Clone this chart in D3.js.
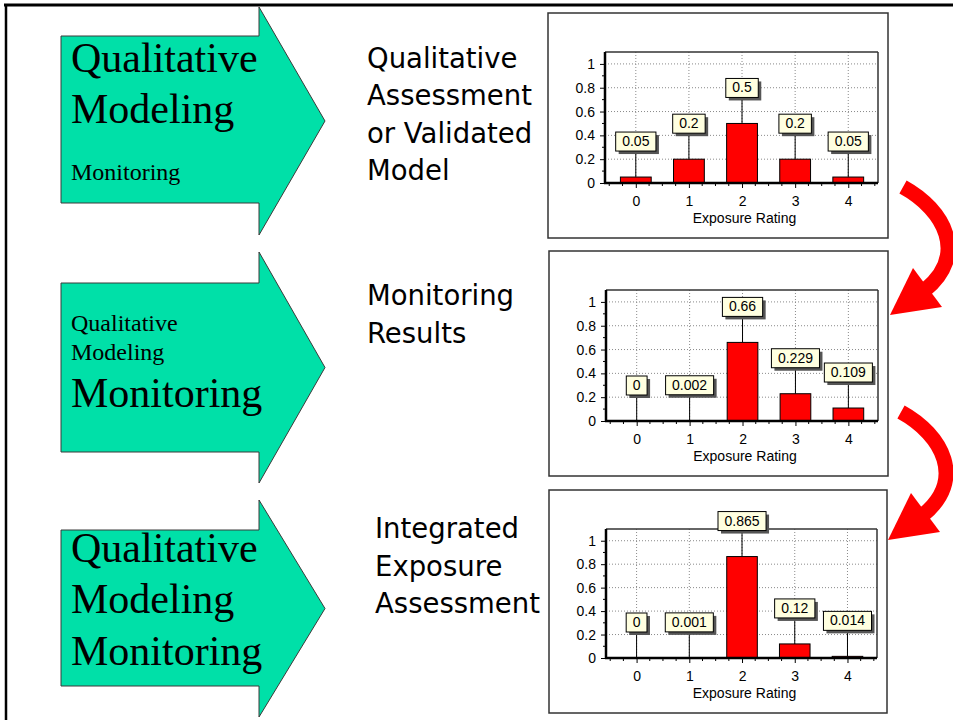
<!DOCTYPE html>
<html>
<head>
<meta charset="utf-8">
<script src="https://cdn.jsdelivr.net/npm/d3@7/dist/d3.min.js"></script>
<style>
  html, body { margin: 0; padding: 0; background: #fff; }
  svg { display: block; }
</style>
</head>
<body>
<svg id="chart" width="953" height="720"></svg>
<script>
// ---- data ----
const categories = [0, 1, 2, 3, 4];
const qualitativeValues = [0.05, 0.2, 0.5, 0.2, 0.05];
const qualitativeLabels = ["0.05", "0.2", "0.5", "0.2", "0.05"];
const monitoringValues = [0, 0.002, 0.66, 0.229, 0.109];
const monitoringLabels = ["0", "0.002", "0.66", "0.229", "0.109"];
const integratedValues = [0, 0.001, 0.865, 0.12, 0.014];
const integratedLabels = ["0", "0.001", "0.865", "0.12", "0.014"];
const yTickValues = [0, 0.2, 0.4, 0.6, 0.8, 1];
const yTickLabels = ["0", "0.2", "0.4", "0.6", "0.8", "1"];
const xAxisTitle = "Exposure Rating";

const stepTitles = [
  ["Qualitative", "Assessment", "or Validated", "Model"],
  ["Monitoring", "Results"],
  ["Integrated", "Exposure", "Assessment"]
];
const arrowWords = ["Qualitative", "Modeling", "Monitoring"];
// which words are emphasised (large) in each green arrow
const arrowEmphasis = [
  [true, true, false],
  [false, false, true],
  [true, true, true]
];

const svg = d3.select("#chart");
svg.append("rect").attr("width", 953).attr("height", 720).attr("fill", "#fff");

// ---- green process arrows on the left ----
const arrowBoxes = [
  { headTop: 7,   bodyTop: 36,  bodyBottom: 203, headBottom: 235, baselines: [72, 123, 180] },
  { headTop: 252, bodyTop: 283, bodyBottom: 452, headBottom: 483, baselines: [331, 360, 407] },
  { headTop: 500, bodyTop: 530, bodyBottom: 686, headBottom: 717, baselines: [562, 613, 665] }
];
const bodyLeft = 61, notchX = 259, tipX = 325;

arrowBoxes.forEach((a, i) => {
  const tipY = (a.headTop + a.headBottom) / 2;
  const p = d3.path();
  p.moveTo(bodyLeft, a.bodyTop);
  p.lineTo(notchX, a.bodyTop);
  p.lineTo(notchX, a.headTop);
  p.lineTo(tipX, tipY);
  p.lineTo(notchX, a.headBottom);
  p.lineTo(notchX, a.bodyBottom);
  p.lineTo(bodyLeft, a.bodyBottom);
  p.closePath();
  svg.append("path").attr("d", p.toString())
    .attr("fill", "rgb(0,224,168)").attr("stroke", "#3a3a3a").attr("stroke-width", 1);

  const g = svg.append("g");
  arrowWords.forEach((w, j) => {
    g.append("text")
      .attr("x", 71).attr("y", a.baselines[j])
      .attr("font-family", "'Liberation Serif', 'Times New Roman', serif")
      .attr("font-size", arrowEmphasis[i][j] ? 42 : 24)
      .attr("fill", "#000")
      .text(w);
  });
});

// ---- step titles in the middle ----
const titleLayout = [
  { x: 367, y0: 68, dy: 37.3 },
  { x: 367, y0: 305, dy: 37.5 },
  { x: 375, y0: 538, dy: 37.7 }
];
stepTitles.forEach((lines, i) => {
  lines.forEach((t, j) => {
    svg.append("text")
      .attr("x", titleLayout[i].x)
      .attr("y", titleLayout[i].y0 + j * titleLayout[i].dy)
      .attr("font-family", "'DejaVu Sans', Verdana, sans-serif")
      .attr("font-size", 27.5)
      .attr("fill", "#000")
      .text(t);
  });
});

// ---- bar chart panels ----
const panels = [
  { x: 548, y: 13,  w: 340, h: 225, values: qualitativeValues, labels: qualitativeLabels },
  { x: 549, y: 251, w: 339, h: 225, values: monitoringValues, labels: monitoringLabels },
  { x: 549, y: 490, w: 338, h: 223, values: integratedValues, labels: integratedLabels }
];

const chartFont = "'Liberation Sans', Arial, sans-serif";

panels.forEach(pn => {
  const g = svg.append("g");
  g.append("rect")
    .attr("x", pn.x).attr("y", pn.y).attr("width", pn.w).attr("height", pn.h)
    .attr("fill", "#fff").attr("stroke", "#333").attr("stroke-width", 1.5);

  const left = pn.x + 57, right = pn.x + pn.w - 10;
  const bottom = pn.y + pn.h - 55;
  const top = pn.y + 39;

  const x = d3.scaleLinear().domain([-0.58, 4.56]).range([left, right]);
  const y = d3.scaleLinear().domain([0, 1.1]).range([bottom, top]);
  const barW = x(0.29) - x(0);

  // dotted grid
  g.selectAll(".hgrid").data(yTickValues.filter(v => v > 0)).join("line")
    .attr("x1", left).attr("x2", right)
    .attr("y1", d => y(d)).attr("y2", d => y(d))
    .attr("stroke", "#8a8a8a").attr("stroke-width", 1).attr("stroke-dasharray", "1,2");
  g.selectAll(".vgrid").data(categories).join("line")
    .attr("x1", d => x(d)).attr("x2", d => x(d))
    .attr("y1", top).attr("y2", bottom)
    .attr("stroke", "#8a8a8a").attr("stroke-width", 1).attr("stroke-dasharray", "1,2");

  // plot frame (top / right)
  g.append("line").attr("x1", left).attr("x2", right).attr("y1", top).attr("y2", top)
    .attr("stroke", "#333").attr("stroke-width", 1.5);
  g.append("line").attr("x1", right).attr("x2", right).attr("y1", top).attr("y2", bottom)
    .attr("stroke", "#333").attr("stroke-width", 1.5);

  // bars
  g.selectAll(".bar").data(categories).join("rect")
    .attr("x", d => x(d) - barW)
    .attr("y", (d, i) => y(pn.values[i]))
    .attr("width", barW * 2)
    .attr("height", (d, i) => bottom - y(pn.values[i]))
    .attr("fill", "#ff0000")
    .attr("stroke", "#000")
    .attr("stroke-width", (d, i) => pn.values[i] > 0.005 ? 1 : 0);

  // y axis
  const yAxis = d3.axisLeft(y).tickValues(yTickValues)
    .tickFormat((d, i) => yTickLabels[i]).tickSize(5).tickPadding(5);
  const ya = g.append("g").attr("transform", `translate(${left},0)`).call(yAxis);
  ya.select(".domain").attr("stroke", "#000").attr("stroke-width", 2.5)
    .attr("d", `M0,${top}V${bottom}`);
  ya.selectAll(".tick line").attr("stroke", "#000");
  ya.selectAll(".tick text").attr("font-family", chartFont).attr("font-size", 14).attr("fill", "#000");
  const yMinor = d3.range(0.1, 1.05, 0.2);
  g.selectAll(".yminor").data(yMinor).join("line")
    .attr("x1", left - 3).attr("x2", left).attr("y1", d => y(d)).attr("y2", d => y(d))
    .attr("stroke", "#000");

  // x axis
  const xAxis = d3.axisBottom(x).tickValues(categories).tickFormat(d3.format("d"))
    .tickSize(5).tickPadding(8);
  const xa = g.append("g").attr("transform", `translate(0,${bottom})`).call(xAxis);
  xa.select(".domain").attr("stroke", "#000").attr("stroke-width", 2.5)
    .attr("d", `M${left - 1},0H${right}`);
  xa.selectAll(".tick line").attr("stroke", "#000");
  xa.selectAll(".tick text").attr("font-family", chartFont).attr("font-size", 14).attr("fill", "#000");
  const xMinor = d3.range(-0.5, 4.51, 0.25).filter(v => Math.abs(v - Math.round(v)) > 0.01);
  g.selectAll(".xminor").data(xMinor).join("line")
    .attr("x1", d => x(d)).attr("x2", d => x(d)).attr("y1", bottom).attr("y2", bottom + 3)
    .attr("stroke", "#000");

  g.append("text")
    .attr("x", (left + right) / 2 + 3).attr("y", bottom + 40)
    .attr("text-anchor", "middle")
    .attr("font-family", chartFont).attr("font-size", 14).attr("fill", "#000")
    .text(xAxisTitle);

  // value callouts: stem + boxed label with drop shadow
  categories.forEach((c, i) => {
    const cx = x(c);
    const vy = y(pn.values[i]);
    const boxBottom = vy - 26;
    g.append("line").attr("x1", cx).attr("x2", cx).attr("y1", vy).attr("y2", boxBottom)
      .attr("stroke", "#000").attr("stroke-width", 1);
    const lg = g.append("g");
    const shadow = lg.append("rect");
    const box = lg.append("rect");
    const txt = lg.append("text")
      .attr("x", cx).attr("y", boxBottom - 5)
      .attr("text-anchor", "middle")
      .attr("font-family", chartFont).attr("font-size", 14).attr("fill", "#000")
      .text(pn.labels[i]);
    const tw = txt.node().getComputedTextLength();
    const bw = tw + 13, bh = 19;
    box.attr("x", cx - bw / 2).attr("y", boxBottom - bh).attr("width", bw).attr("height", bh)
      .attr("fill", "#ffffe0").attr("stroke", "#000").attr("stroke-width", 1);
    shadow.attr("x", cx - bw / 2 + 3).attr("y", boxBottom - bh + 3).attr("width", bw).attr("height", bh)
      .attr("fill", "#555");
  });
});

// ---- red curved arrows linking the panels ----
function curvedArrow(dx, dy) {
  const band = d3.path();
  band.moveTo(903 + dx, 187 + dy);
  band.bezierCurveTo(945 + dx, 210 + dy, 968 + dx, 255 + dy, 925 + dx, 290 + dy);
  svg.append("path").attr("d", band.toString())
    .attr("fill", "none").attr("stroke", "#ff0000").attr("stroke-width", 15);
  const head = d3.path();
  head.moveTo(913 + dx, 268 + dy);
  head.lineTo(942 + dx, 307 + dy);
  head.lineTo(890 + dx, 315 + dy);
  head.closePath();
  svg.append("path").attr("d", head.toString()).attr("fill", "#ff0000");
}
curvedArrow(0, 0);
curvedArrow(-2, 225);

// ---- slide frame lines ----
svg.append("line").attr("x1", 4).attr("x2", 953).attr("y1", 5).attr("y2", 5)
  .attr("stroke", "#000").attr("stroke-width", 3);
svg.append("line").attr("x1", 6).attr("x2", 6).attr("y1", 4).attr("y2", 720)
  .attr("stroke", "#000").attr("stroke-width", 2.5);
</script>
</body>
</html>
